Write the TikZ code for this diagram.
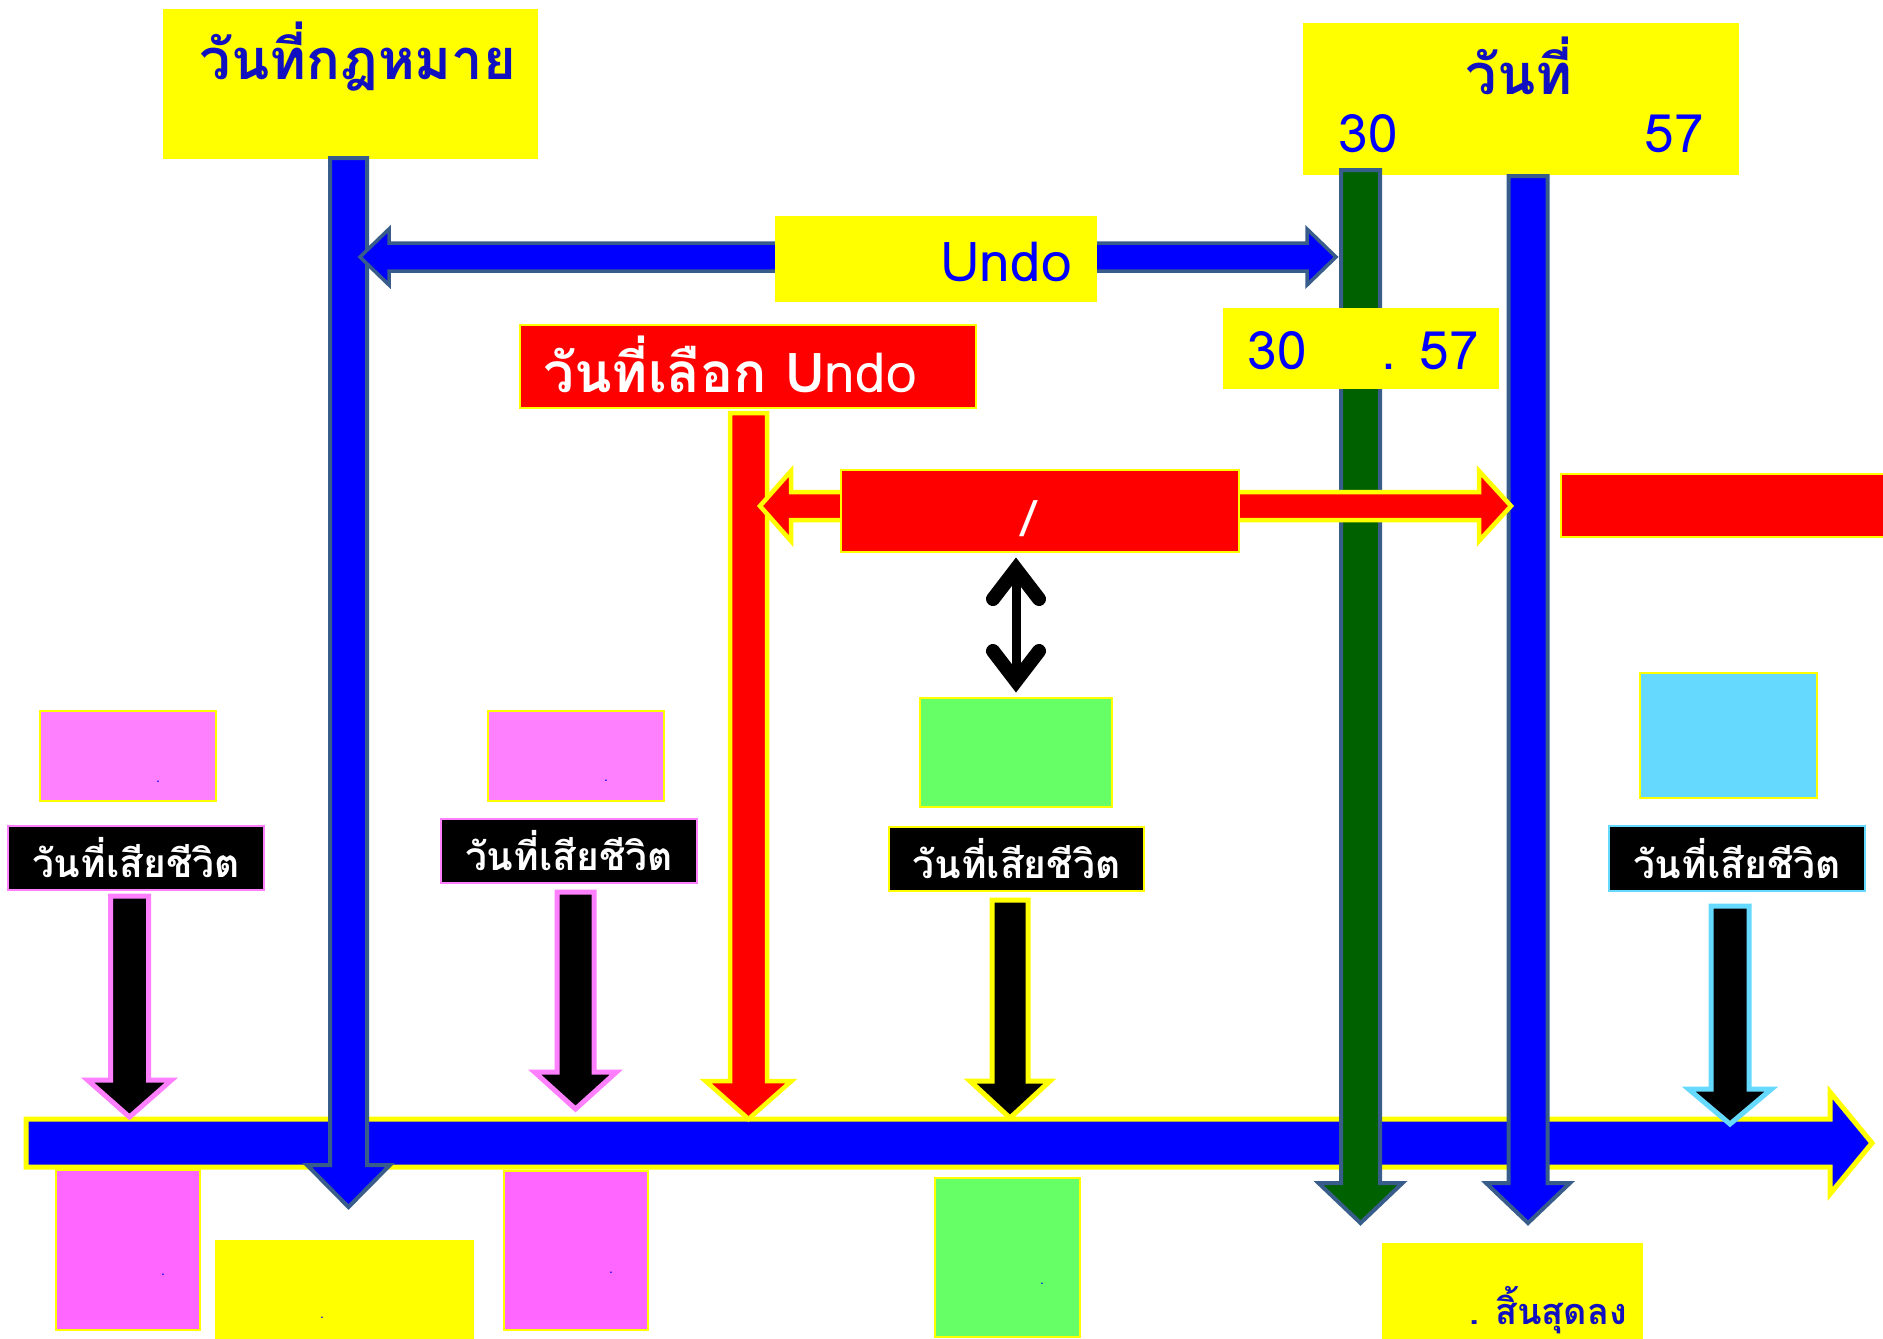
\documentclass[tikz,border=0pt]{standalone}
\usepackage{fontspec}
\setmainfont[Script=Thai]{Loma}
\usetikzlibrary{calc}
\definecolor{yel}{HTML}{FFFF00}
\definecolor{blu}{HTML}{0000FF}
\definecolor{steel}{HTML}{385D8A}
\definecolor{dgreen}{HTML}{006100}
\definecolor{pinkA}{HTML}{FF80FF}
\definecolor{pinkB}{HTML}{FF66FF}
\definecolor{lgreen}{HTML}{66FF66}
\definecolor{cyanA}{HTML}{66D9FF}
\definecolor{tblue}{HTML}{1010C0}
% vertical block arrow: style, x, ytop, ybase, ytip, shaft half, head half
\newcommand\vArrow[7]{\draw[#1] (#2-#6,#3) -- (#2+#6,#3) -- (#2+#6,#4) -- (#2+#7,#4) -- (#2,#5) -- (#2-#7,#4) -- (#2-#6,#4) -- cycle;}
% horizontal block arrow: style, y, xstart, xbase, xtip, shaft half, head half
\newcommand\hArrow[7]{\draw[#1] (#3,#2-#6) -- (#4,#2-#6) -- (#4,#2-#7) -- (#5,#2) -- (#4,#2+#7) -- (#4,#2+#6) -- (#3,#2+#6) -- cycle;}
\begin{document}
\begin{tikzpicture}[x=1pt,y=-1pt,
  box/.style={rectangle,inner sep=0pt,line width=1.5pt},
  ybox/.style={box,fill=yel,draw=yel},
  rbox/.style={box,fill=red,draw=yel,line width=2pt},
  lbl/.style={box,fill=black,line width=2.5pt,text=white,font=\bfseries\fontsize{39}{42}\selectfont},
  ttl/.style={text=tblue,font=\bfseries\fontsize{56}{60}\selectfont,inner sep=0pt},
  num/.style={text=blu,font=\fontsize{53}{56}\selectfont,inner sep=0pt},
  wtxt/.style={text=white,inner sep=0pt},
  dotx/.style={text=blu,font=\fontsize{14}{14}\selectfont,inner sep=0pt},
  vblue/.style={fill=blu,draw=steel,line width=4pt,line join=miter},
  vgreen/.style={fill=dgreen,draw=steel,line width=4pt,line join=miter},
  redarr/.style={fill=red,draw=yel,line width=4.5pt,line join=miter},
  blkA/.style={fill=black,draw=pinkA,line width=5pt,line join=miter},
  blkY/.style={fill=black,draw=yel,line width=5pt,line join=miter},
  blkC/.style={fill=black,draw=cyanA,line width=5pt,line join=miter},
  tline/.style={fill=blu,draw=yel,line width=5pt,line join=miter},
  chev/.style={line width=14pt,line cap=round,line join=miter},
]
\useasboundingbox (0,0) rectangle (1883,1339);
\clip (0,0) rectangle (1883,1339);

% timeline
\draw[tline] (26,1119) -- (1830,1119) -- (1830,1092) -- (1872,1143) -- (1830,1194) -- (1830,1167) -- (26,1167) -- cycle;
\coordinate (tlEnd) at (1872,1143);

% top boxes
\node[ybox,minimum width=373,minimum height=148] (A) at (350.5,84) {};
\node[ttl] (tA) at (358,57) {วันที่กฎหมาย};
\node[ybox,minimum width=434,minimum height=150] (C) at (1521,99) {};
\node[ttl] (tC) at (1519,66) {วันที่};
\node[num] (n30) at (1368,134) {30};
\node[num] (n57) at (1674,134) {57};

% vertical arrows
\vArrow{vblue}{348.5}{158}{1165}{1207}{18.5}{41.5}
\vArrow{vgreen}{1360.5}{170}{1183}{1223}{19.5}{42}
\vArrow{vblue}{1528}{176}{1183}{1223}{19.5}{42}

% Undo double arrow
\draw[vblue,line width=3.5pt] (360,257) -- (389,229) -- (389,243) -- (1307,243) -- (1307,229) -- (1336,257) -- (1307,285) -- (1307,271) -- (389,271) -- (389,285) -- cycle;
\node[ybox,minimum width=320,minimum height=84] (F) at (936,259) {};
\node[num,font=\fontsize{55}{58}\selectfont] (tF) at (1006,262) {Undo};

% 30 . 57 box
\node[ybox,minimum width=274,minimum height=79] (G) at (1361,348.5) {};
\node[num] (g30) at (1277,351) {30};
\node[num] (g57) at (1430,351) {. 57};

% red vertical arrow and box
\vArrow{redarr}{748.5}{413}{1081}{1119}{18.5}{43}
\node[rbox,minimum width=456,minimum height=83] (H) at (748,366.5) {};
\node[wtxt,font=\fontsize{55}{58}\selectfont] (tH) at (730,364) {\bfseries วันที่เลือก U\mdseries ndo};

% red horizontal arrows
\hArrow{redarr}{506}{850}{791}{760}{14}{35}
\hArrow{redarr}{506}{1230}{1479}{1511}{14}{35}
\node[rbox,minimum width=398,minimum height=82] (J) at (1040,511) {};
\node[wtxt,font=\fontsize{50}{54}\selectfont] (tJ) at (1029,519) {/};
\node[rbox,minimum width=340,minimum height=63] (M) at (1731,505.5) {};

% green box and double arrow
\node[box,fill=lgreen,draw=yel,line width=2pt,minimum width=192,minimum height=109] (O) at (1016,752.5) {};
\draw[line width=9pt] ($(O.north |- J.south)+(0,14)$) -- ($(O.north)+(0,-14)$);
\draw[chev] ($(O.north |- J.south)+(-23,46)$) -- ($(O.north |- J.south)+(0,16)$) -- ($(O.north |- J.south)+(23,46)$);
\draw[chev] ($(O.north)+(-23,-46)$) -- ($(O.north)+(0,-16)$) -- ($(O.north)+(23,-46)$);

% upper pink / cyan boxes
\node[box,fill=pinkA,draw=yel,line width=2.5pt,minimum width=176,minimum height=90] (R) at (128,756) {};
\node[dotx] at (158,782) {.};
\node[box,fill=pinkA,draw=yel,line width=2.5pt,minimum width=176,minimum height=90] (U) at (576,756) {};
\node[dotx] at (606,781) {.};
\node[box,fill=cyanA,draw=yel,line width=2.5pt,minimum width=177,minimum height=125] (X) at (1728.5,735.5) {};

% labels
\node[lbl,draw=pinkA,minimum width=256,minimum height=64] (S) at (136,858) {วันที่เสียชีวิต};
\node[lbl,draw=pinkA,minimum width=256,minimum height=64] (V) at (569,851) {วันที่เสียชีวิต};
\node[lbl,draw=yel,minimum width=255,minimum height=64] (P) at (1016.5,859) {วันที่เสียชีวิต};
\node[lbl,draw=cyanA,minimum width=256,minimum height=65] (Y) at (1737,858.5) {วันที่เสียชีวิต};

% black down arrows
\vArrow{blkA}{129.5}{896}{1080}{1117}{19}{42}
\vArrow{blkA}{575.5}{892}{1072}{1109}{18.5}{41}
\vArrow{blkY}{1010}{900}{1081}{1118}{18}{40}
\vArrow{blkC}{1730}{906}{1089}{1124}{19}{41.5}

% bottom boxes
\node[box,fill=pinkB,draw=yel,line width=1.5pt,minimum width=144,minimum height=160] (B1) at (128,1250) {};
\node[dotx] at (163,1275) {.};
\node[box,fill=pinkB,draw=yel,line width=1.5pt,minimum width=144,minimum height=159] (B2) at (576,1250.5) {};
\node[dotx] at (611,1273) {.};
\node[ybox,minimum width=257,minimum height=100] (CC) at (344.5,1291) {};
\node[dotx] at (322,1318) {.};
\node[box,fill=lgreen,draw=yel,line width=1.5pt,minimum width=145,minimum height=159] (DD) at (1007.5,1257.5) {};
\node[dotx] at (1042,1284) {.};
\node[ybox,minimum width=259,minimum height=97] (EE) at (1512.5,1292.5) {};
\node[ttl,font=\bfseries\fontsize{36}{40}\selectfont] (tEE) at (1548,1310) {. สิ้นสุดลง};
\end{tikzpicture}
\end{document}
